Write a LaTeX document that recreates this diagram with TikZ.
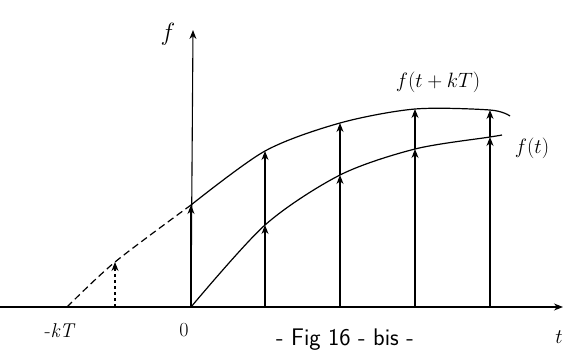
\documentclass[tikz,border=0pt]{standalone}
\usepackage{fontspec}
\usetikzlibrary{arrows.meta}
\tikzset{
  sample/.style={line width=1.1pt,-{Stealth[length=9pt,width=7pt]}},
  curve/.style={line width=1.2pt},
  lbl/.style={font=\fontsize{20}{24}\selectfont},
  caption/.style={font=\sffamily\fontsize{24}{28}\selectfont},
}
\begin{document}
\begin{tikzpicture}[x=1pt,y=-1pt]
  \useasboundingbox (0,0) rectangle (567,359);
  % Axes
  \coordinate (xstart) at (0,307);
  \coordinate (tend) at (563,307);
  \coordinate (o) at (191,307);
  \coordinate (ftop) at (193,30);
  \draw[sample] (xstart) -- (tend);
  \draw[sample] (o) -- (ftop);
  % Shifted start and first samples
  \coordinate (mkT) at (67,307);
  \coordinate (bm) at (115,307);
  \coordinate (um) at (115,262);
  \coordinate (u0) at (191,205);
  \draw[sample,dashed] (bm) -- (um);
  \draw[sample] (o) -- (u0);
  % Samples: index / x / lower / upper
  \foreach \i/\x/\lo/\up in {1/265/225/151,2/340/175/123,3/415/149/109,4/490/137/110}{
    \coordinate (b\i) at (\x,307);
    \coordinate (l\i) at (\x,\lo);
    \coordinate (u\i) at (\x,\up);
    \draw[sample] (b\i) -- (l\i);
    \draw[sample] (l\i) -- (u\i);
  }
  \coordinate (lend) at (502,135);
  \coordinate (uend) at (510,116);
  % Curves
  \draw[curve,dash pattern=on 7pt off 4pt] plot[smooth] coordinates {(mkT) (um) (u0)};
  \draw[curve] plot[smooth] coordinates {(u0) (u1) (u2) (u3) (u4) (uend)};
  \draw[curve] plot[smooth] coordinates {(o) (l1) (l2) (l3) (l4) (lend)};
  % Labels
  \node[font=\fontsize{28}{32}\selectfont] (fax) at (168,34) {$f$};
  \node[lbl] (fup) at (438,82) {$f(t+kT)$};
  \node[lbl] (flo) at (532,148) {$f(t)$};
  \node[lbl] (kt) at (60,331) {-\textit{kT}};
  \node[lbl] (zero) at (184,330) {0};
  \node[lbl] (tl) at (559,337) {$t$};
  \node[caption] (fig) at (345,340) {- Fig 16 - bis -};
\end{tikzpicture}
\end{document}
